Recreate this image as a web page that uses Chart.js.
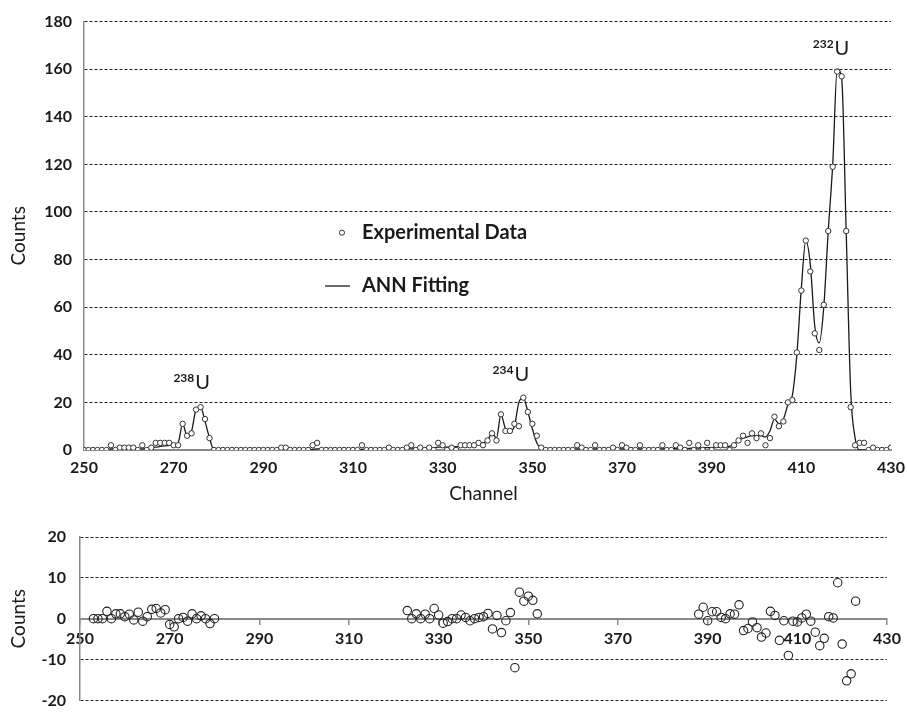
<!DOCTYPE html>
<html>
<head>
<meta charset="utf-8">
<script src="https://cdn.jsdelivr.net/npm/chart.js@4.4.0/dist/chart.umd.min.js"></script>
<style>
  html, body { margin: 0; padding: 0; background: #fff; }
  #wrap { position: relative; width: 907px; height: 724px; }
  canvas { position: absolute; left: 0; }
  #top { top: 0; }
  #bottom { top: 482px; }
</style>
</head>
<body>
<div id="wrap">
  <canvas id="top" width="907" height="482"></canvas>
  <canvas id="bottom" width="907" height="242"></canvas>
</div>
<script>
// ===== DATA =====
const firstChannel = 250;

// experimental counts, one per channel from 250 to 430
const counts = [
  0, 0, 0, 0, 0, 0, 2, 0, 1, 1,
  1, 1, 0, 2, 0, 1, 3, 3, 3, 3,
  2, 2, 11, 6, 7, 17, 18, 13, 5, 0,
  0, 0, 0, 0, 0, 0, 0, 0, 0, 0,
  0, 0, 0, 0, 1, 1, 0, 0, 0, 0,
  0, 2, 3, 0, 0, 0, 0, 0, 0, 0,
  0, 0, 2, 0, 0, 0, 0, 0, 1, 0,
  0, 0, 1, 2, 0, 1, 0, 1, 0, 3,
  2, 0, 1, 0, 2, 2, 2, 2, 3, 2,
  4, 7, 4, 15, 8, 8, 11, 10, 22, 16,
  11, 6, 1, 0, 0, 0, 0, 0, 0, 0,
  2, 1, 0, 0, 2, 0, 0, 0, 1, 0,
  2, 1, 0, 0, 2, 0, 0, 0, 0, 2,
  0, 0, 2, 1, 0, 3, 0, 2, 0, 3,
  0, 2, 2, 2, 0, 2, 4, 6, 3, 7,
  5, 7, 2, 5, 14, 10, 12, 20, 21, 41,
  67, 88, 75, 49, 42, 61, 92, 119, 159, 157,
  92, 18, 2, 3, 3, 0, 1, 0, 0, 0,
  1
];

// ANN fitted curve, same channels
const annFit = [
  0, 0, 0, 0, 0, 0, 0.5, 0.5, 0.5, 0.5,
  0.5, 0.5, 0.3, 0.5, 0.5, 1, 1.2, 1.5, 1.7, 2,
  2.2, 3, 11, 6, 8, 17, 18, 12, 5, 0,
  0, 0, 0, 0, 0, 0, 0, 0, 0, 0,
  0, 0, 0, 0, 0.3, 0.3, 0, 0, 0, 0,
  0, 0.3, 0.5, 0.3, 0, 0, 0, 0, 0, 0,
  0, 0, 0.3, 0.3, 0.3, 0.3, 0.3, 0.5, 0.5, 0.5,
  0.5, 0.5, 0.7, 0.8, 0.8, 0.8, 0.8, 1, 1, 1.2,
  1.2, 1.2, 1.3, 1.4, 1.6, 1.8, 2, 2.2, 2.6, 3,
  4, 7, 5, 15, 9, 8, 10, 20, 22, 16,
  9, 3, 0.5, 0.3, 0.3, 0.3, 0.3, 0.3, 0.3, 0.3,
  0.5, 0.5, 0.5, 0.5, 0.5, 0.5, 0.5, 0.5, 0.5, 0.5,
  0.5, 0.5, 0.5, 0.5, 0.5, 0.5, 0.5, 0.5, 0.5, 0.5,
  0.6, 0.6, 0.6, 0.7, 0.7, 0.7, 0.8, 0.8, 0.9, 1,
  1, 1.1, 1.2, 1.3, 1.5, 2.5, 4, 5, 5.5, 6,
  6, 6, 5.5, 8, 13, 11, 13, 19, 23, 40,
  68, 88, 78, 52, 45, 60, 92, 120, 160, 156,
  92, 25, 5, 0, 0, 0, 0, 0, 0, 0,
  0
];

// residuals (data - fit), three channel runs
const residualStarts = [253, 323, 388];
const residuals238 = [
  0, 0, 0, 1.8, 0, 1.2, 1.2, 0.5, 1.1, -0.3,
  1.6, -0.6, 0.5, 2.3, 2.5, 1.4, 2.2, -1.4, -2, 0,
  0.3, -0.6, 1.2, 0, 0.7, 0, -1.2, 0
];
const residuals234 = [
  2, 0, 1.2, 0, 1.1, 0, 2.5, 0.9, -1.1, -0.7,
  0, 0, 0.9, 0.3, -0.5, 0, 0.3, 0.5, 1.3, -2.5,
  0.8, -3.4, -0.5, 1.5, -12, 6.5, 4.3, 5.5, 4.5, 1.2
];
const residuals232 = [
  1.1, 2.8, -0.5, 1.7, 1.7, 0.3, 0, 1.2, 1.1, 3.4,
  -2.9, -2.4, -0.8, -2.2, -4.5, -3.5, 1.8, 0.8, -5.3, -0.5,
  -9, -0.6, -0.8, 0.2, 1.1, -0.6, -3.3, -6.6, -4.8, 0.5,
  0.2, 8.8, -6.2, -15.2, -13.5, 4.3
];

const peakNames = ["238", "234", "232"];
const legendNames = ["Experimental Data", "ANN Fitting"];

// ===== HELPERS =====
const FONT = 'Lato, "Open Sans", "DejaVu Sans", sans-serif';
const INK = "#1a1a1a";
const AXIS = "#8a8a8a";

const toPts = (start, vals) => vals.map((v, i) => ({ x: start + i, y: v }));
const expPts = toPts(firstChannel, counts);
const fitPts = toPts(firstChannel, annFit);
const resPts = [residuals238, residuals234, residuals232]
  .map((r, k) => toPts(residualStarts[k], r))
  .flat();

const dashedGrid = {
  color: (c) => (c.tick && c.tick.value === 0 ? "rgba(0,0,0,0)" : "#222"),
  lineWidth: 1,
  drawTicks: false,
};

// drop the automatic label overflow padding so layout.padding rules
const noSidePad = (s) => {
  s.paddingLeft = 0;
  s.paddingRight = 0;
};

// peak labels + legend drawn inside the top plot
const topDecor = {
  id: "topDecor",
  afterDraw(chart, args, opts) {
    const { ctx } = chart;
    const x = chart.scales.x, y = chart.scales.y;
    ctx.save();
    ctx.fillStyle = INK;
    ctx.textBaseline = "alphabetic";
    opts.peaks.forEach((p, i) => {
      const px = x.getPixelForValue(p.ch);
      const py = y.getPixelForValue(p.at);
      ctx.font = "bold 12px " + FONT;
      ctx.textAlign = "right";
      ctx.fillText(peakNames[i], px, py - 7);
      ctx.font = "20px " + FONT;
      ctx.textAlign = "left";
      ctx.fillText("U", px + 1, py);
    });

    // legend
    const lx = x.getPixelForValue(opts.legend.ch);
    const y1 = y.getPixelForValue(opts.legend.row1);
    const y2 = y.getPixelForValue(opts.legend.row2);
    ctx.strokeStyle = "#333";
    ctx.lineWidth = 1;
    ctx.beginPath();
    ctx.arc(lx - 20, y1, 2.6, 0, Math.PI * 2);
    ctx.stroke();
    ctx.strokeStyle = INK;
    ctx.lineWidth = 1.3;
    ctx.beginPath();
    ctx.moveTo(lx - 37, y2);
    ctx.lineTo(lx - 12, y2);
    ctx.stroke();
    ctx.font = "bold 20px " + FONT;
    ctx.textAlign = "left";
    ctx.textBaseline = "middle";
    ctx.fillText(legendNames[0], lx, y1);
    ctx.fillText(legendNames[1], lx, y2);
    ctx.restore();
  },
};

// "Channel" caption above the residual plot
const channelCaption = {
  id: "channelCaption",
  afterDraw(chart) {
    const { ctx, chartArea } = chart;
    ctx.save();
    ctx.fillStyle = INK;
    ctx.font = "19px " + FONT;
    ctx.textAlign = "center";
    ctx.textBaseline = "middle";
    ctx.fillText("Channel", (chartArea.left + chartArea.right) / 2, 12);
    ctx.restore();
  },
};

// ===== TOP CHART =====
new Chart(document.getElementById("top"), {
  type: "scatter",
  data: {
    datasets: [
      {
        type: "line",
        label: legendNames[1],
        data: fitPts,
        borderColor: INK,
        borderWidth: 1.3,
        pointRadius: 0,
        cubicInterpolationMode: "monotone",
        order: 2,
      },
      {
        label: legendNames[0],
        data: expPts,
        pointRadius: 2.7,
        borderWidth: 1,
        borderColor: "#333",
        backgroundColor: "#fff",
        order: 1,
      },
    ],
  },
  options: {
    responsive: false,
    animation: false,
    devicePixelRatio: 1,
    layout: { padding: { top: 16, right: 16, left: 0, bottom: 0 } },
    plugins: {
      legend: { display: false },
      tooltip: { enabled: false },
      topDecor: {
        peaks: [
          { ch: 274.6, at: 25.7 },
          { ch: 345.8, at: 29 },
          { ch: 417.2, at: 166 },
        ],
        legend: { ch: 312, row1: 91.3, row2: 68.9 },
      },
    },
    scales: {
      x: {
        type: "linear",
        min: 250,
        max: 430,
        afterFit: (s) => { s.height = 32; noSidePad(s); },
        ticks: { stepSize: 20, color: INK, padding: 8, font: { family: FONT, size: 16, weight: "bold" } },
        grid: { drawOnChartArea: false, drawTicks: false },
        border: { color: AXIS, width: 2 },
      },
      y: {
        min: 0,
        max: 180,
        afterFit: (s) => { s.width = 84; },
        ticks: { stepSize: 20, color: INK, padding: 12, font: { family: FONT, size: 16, weight: "bold" } },
        grid: dashedGrid,
        border: { color: AXIS, width: 1.5, dash: [3, 2] },
        title: { display: true, text: "Counts", color: INK, padding: { top: 7, bottom: 0 }, font: { family: FONT, size: 19 } },
      },
    },
  },
  plugins: [topDecor],
});

// ===== RESIDUAL CHART =====
new Chart(document.getElementById("bottom"), {
  type: "scatter",
  data: {
    datasets: [
      {
        label: "Residuals",
        data: resPts,
        pointRadius: 4.2,
        borderWidth: 1.1,
        borderColor: "#222",
        backgroundColor: "rgba(255,255,255,0)",
      },
    ],
  },
  options: {
    responsive: false,
    animation: false,
    devicePixelRatio: 1,
    layout: { padding: { top: 55, right: 20, left: 0, bottom: 12 } },
    plugins: { legend: { display: false }, tooltip: { enabled: false } },
    scales: {
      x: {
        type: "linear",
        position: { y: 0 },
        min: 250,
        max: 430,
        afterFit: noSidePad,
        ticks: { stepSize: 20, color: INK, padding: 6, font: { family: FONT, size: 16, weight: "bold" } },
        grid: { drawOnChartArea: false, drawTicks: true, tickLength: 5, color: AXIS, lineWidth: 1.5 },
        border: { color: AXIS, width: 2 },
      },
      y: {
        min: -20,
        max: 20,
        afterFit: (s) => { s.width = 80; },
        ticks: { stepSize: 10, color: INK, padding: 14, font: { family: FONT, size: 16, weight: "bold" } },
        grid: dashedGrid,
        border: { color: AXIS, width: 1.5, dash: [3, 2] },
        title: { display: true, text: "Counts", color: INK, padding: { top: 7, bottom: 0 }, font: { family: FONT, size: 19 } },
      },
    },
  },
  plugins: [channelCaption],
});
</script>
</body>
</html>
